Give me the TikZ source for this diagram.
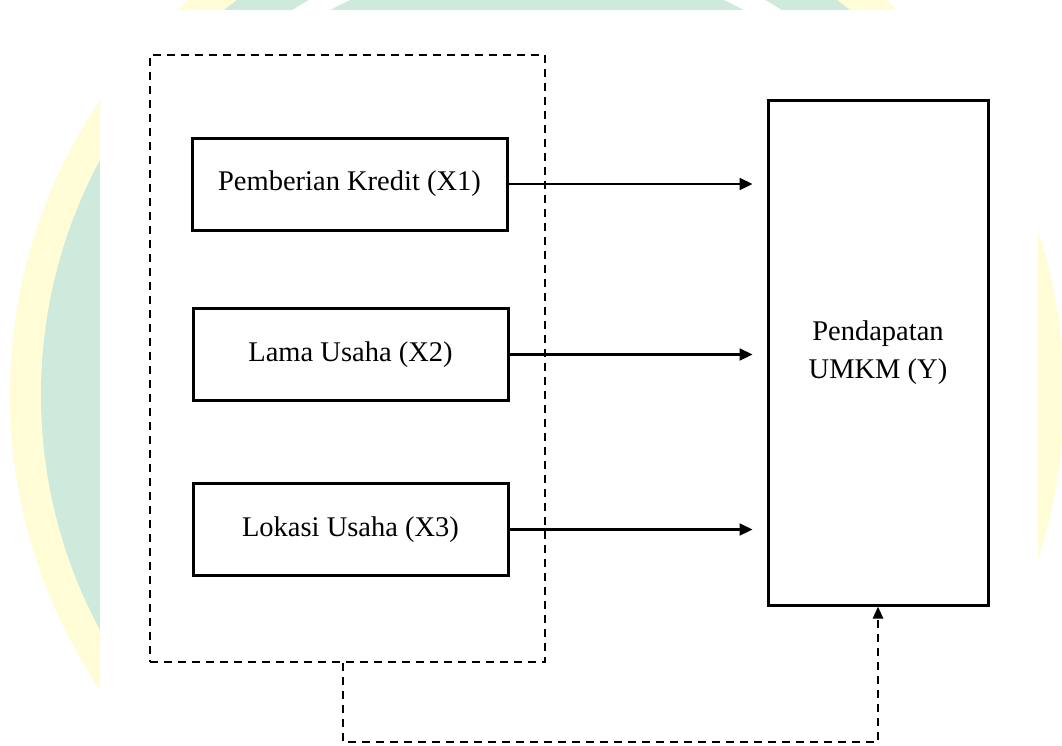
\documentclass[tikz,border=0pt]{standalone}
\usepackage{fontspec}
\setmainfont{Liberation Serif}
\usetikzlibrary{arrows.meta}
\definecolor{wmyellow}{RGB}{255,252,214}
\definecolor{wmgreen}{RGB}{205,234,220}
\tikzset{
  varbox/.style={draw=black, line width=3pt, minimum width=315pt, minimum height=92pt, inner sep=0pt, font=\fontsize{28.5}{38}\selectfont},
  ybox/.style={draw=black, line width=3pt, minimum width=220pt, minimum height=505pt, inner sep=0pt, align=center, font=\fontsize{28.5}{38}\selectfont},
  groupbox/.style={draw=black, line width=2.4pt, dash pattern=on 8pt off 6pt, minimum width=395pt, minimum height=607pt, inner sep=0pt},
  arr/.style={line width=2.2pt, -{Triangle[length=13pt,width=12pt]}, shorten >=14pt},
  feedback/.style={line width=2.4pt, dash pattern=on 8pt off 6pt, -{Triangle[length=12pt,width=10pt]}}
}
\begin{document}
\begin{tikzpicture}[x=1pt,y=-1pt]
\useasboundingbox (0,0) rectangle (1062,745);
% watermark
\begin{scope}
\clip (0,0) rectangle (1062,745);
\fill[wmyellow] (537,395) circle[radius=527pt];
\fill[wmgreen] (537,395) circle[radius=496pt];
\begin{scope}
\clip (0,0) rectangle (1062,40);
\draw[white, line width=19pt] (537,395) circle[radius=446.5pt];
\end{scope}
\fill[white] (100,10) rectangle (1038,760);
\end{scope}
% group
\node[groupbox] (g) at (347.5,358.5) {};
% variables
\node[varbox] (x1) at (349.5,184) {Pemberian Kredit (X1)};
\node[varbox] (x2) at (350.5,354.5) {Lama Usaha (X2)};
\node[varbox] (x3) at (350.5,529.5) {Lokasi Usaha (X3)};
\node[ybox] (y) at (878,352.5) {Pendapatan\\UMKM (Y)};
% arrows
\draw[arr] (x1.east) -- (x1.east -| y.west);
\draw[arr] (x2.east) -- (x2.east -| y.west);
\draw[arr] (x3.east) -- (x3.east -| y.west);
\draw[feedback] ([xshift=-4.5pt]g.south) -- ++(0,79) -| (y.south);
\end{tikzpicture}
\end{document}
